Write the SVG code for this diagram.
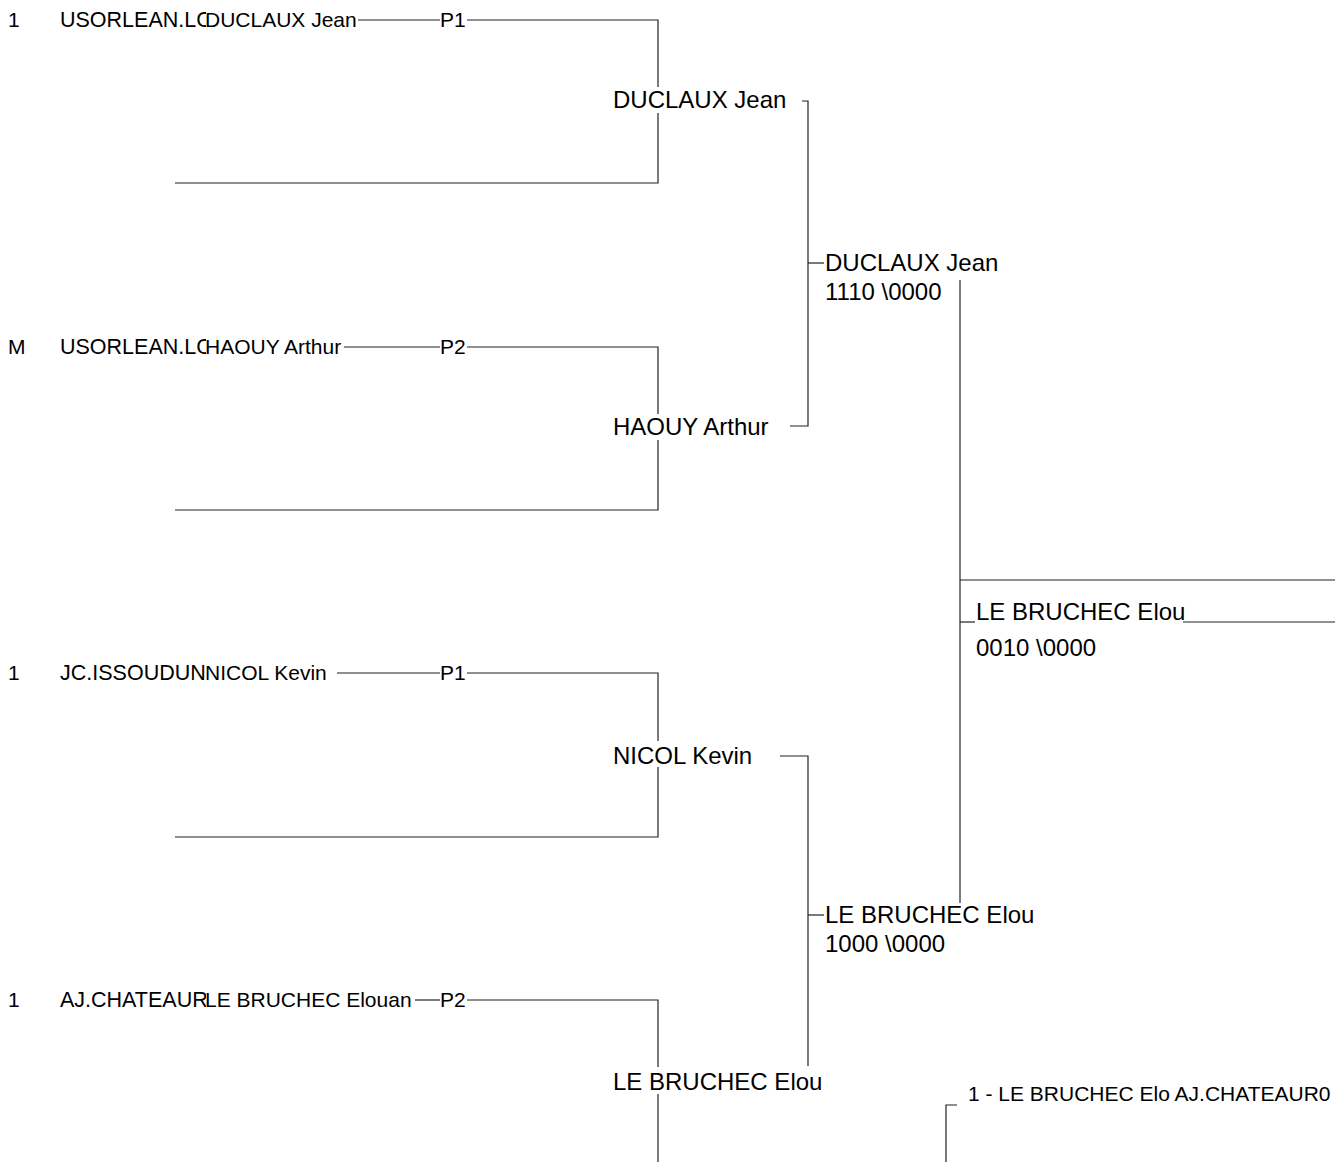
<svg xmlns="http://www.w3.org/2000/svg" width="1335" height="1162" viewBox="0 0 1335 1162">
<style>
text{font-family:"Liberation Sans",Arial,sans-serif;fill:#000}
.r{font-size:21px}
.k{font-size:21.5px}
.m{font-size:24px}
.c line,.c polyline{stroke:#222;stroke-width:1.2;fill:none}
</style>
<defs>
<clipPath id="club"><rect x="0" y="0" width="206" height="1162"/></clipPath>
</defs>
<rect width="1335" height="1162" fill="#fff"/>
<g class="c" id="connectors">
<line x1="358" y1="20" x2="440" y2="20"/>
<polyline points="467,20 658,20 658,87"/>
<polyline points="658,113 658,183 175,183"/>
<line x1="344" y1="347" x2="440" y2="347"/>
<polyline points="467,347 658,347 658,414"/>
<polyline points="658,440 658,510 175,510"/>
<line x1="337" y1="673" x2="440" y2="673"/>
<polyline points="467,673 658,673 658,741"/>
<polyline points="658,767 658,837 175,837"/>
<line x1="415" y1="1000" x2="440" y2="1000"/>
<polyline points="467,1000 658,1000 658,1067"/>
<line x1="658" y1="1094" x2="658" y2="1162"/>
<polyline points="802,101 808,101 808,426 790,426"/>
<line x1="808" y1="263" x2="824" y2="263"/>
<polyline points="780,756 808,756 808,1066"/>
<line x1="808" y1="915" x2="824" y2="915"/>
<line x1="960" y1="280" x2="960" y2="903"/>
<line x1="960" y1="580" x2="1335" y2="580"/>
<line x1="960" y1="622" x2="975" y2="622"/>
<line x1="1183" y1="622" x2="1335" y2="622"/>
<polyline points="957,1105 946,1105 946,1162"/>
</g>
<g id="row1">
<text class="r" x="8" y="27">1</text>
<text class="k" x="60" y="27" clip-path="url(#club)">USORLEAN.LC</text>
<text class="r" x="205" y="27">DUCLAUX Jean</text>
<text class="r" x="440" y="27">P1</text>
</g>
<g id="row2">
<text class="r" x="8" y="354">M</text>
<text class="k" x="60" y="354" clip-path="url(#club)">USORLEAN.LC</text>
<text class="r" x="205" y="354">HAOUY Arthur</text>
<text class="r" x="440" y="354">P2</text>
</g>
<g id="row3">
<text class="r" x="8" y="680">1</text>
<text class="k" x="60" y="680" clip-path="url(#club)">JC.ISSOUDUN</text>
<text class="r" x="205" y="680">NICOL Kevin</text>
<text class="r" x="440" y="680">P1</text>
</g>
<g id="row4">
<text class="r" x="8" y="1007">1</text>
<text class="k" x="60" y="1007" clip-path="url(#club)">AJ.CHATEAUR</text>
<text class="r" x="205" y="1007">LE BRUCHEC Elouan</text>
<text class="r" x="440" y="1007">P2</text>
</g>
<g id="m1"><text class="m" x="613" y="108">DUCLAUX Jean</text></g>
<g id="m2"><text class="m" x="613" y="435">HAOUY Arthur</text></g>
<g id="m3"><text class="m" x="613" y="764">NICOL Kevin</text></g>
<g id="m4"><text class="m" x="613" y="1090">LE BRUCHEC Elou</text></g>
<g id="s1"><text class="m" x="825" y="271">DUCLAUX Jean</text><text class="m" x="825" y="300">1110 \0000</text></g>
<g id="s2"><text class="m" x="825" y="923">LE BRUCHEC Elou</text><text class="m" x="825" y="952">1000 \0000</text></g>
<g id="final"><text class="m" x="976" y="620">LE BRUCHEC Elou</text><text class="m" x="976" y="656">0010 \0000</text></g>
<g id="third"><text class="r" x="968" y="1101">1 - LE BRUCHEC Elo AJ.CHATEAUR0</text></g>
</svg>
